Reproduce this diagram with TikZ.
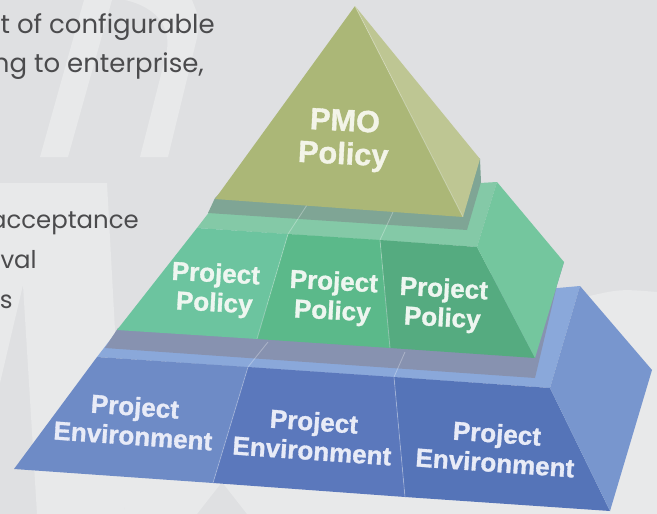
\documentclass[tikz,border=0pt]{standalone}
\usepackage{fontspec}
\newfontfamily\labelfont[BoldFeatures={FakeBold=1.2}]{Liberation Sans}
\newfontfamily\bodyfont{Poppins}

% Colours of the background
\definecolor{bgdark}{HTML}{DFE0E2}
\definecolor{bglight}{HTML}{E8E9EA}
\definecolor{bodygray}{HTML}{4B4B4D}
% Colours of the PMO pyramid
\definecolor{pmofront}{HTML}{ABB777}
\definecolor{pmoside}{HTML}{BEC693}
\definecolor{pmotext}{HTML}{F3F4E8}
% Colours of the policy tier
\definecolor{polstrip}{HTML}{84C9A7}
\definecolor{polshadow}{HTML}{7FA595}
\definecolor{polleft}{HTML}{6CC49F}
\definecolor{polmid}{HTML}{5BB98A}
\definecolor{polright}{HTML}{55AB80}
\definecolor{polside}{HTML}{74C69E}
\definecolor{poltext}{HTML}{EEF6F0}
% Colours of the environment tier
\definecolor{envstrip}{HTML}{8AA8DA}
\definecolor{envshadow}{HTML}{8792B0}
\definecolor{envleft}{HTML}{6E8BC6}
\definecolor{envmid}{HTML}{5B78BC}
\definecolor{envright}{HTML}{5574B8}
\definecolor{envside}{HTML}{7896CE}
\definecolor{envtext}{HTML}{E8EBF7}

\begin{document}
\begin{tikzpicture}[x=0.75pt,y=-0.75pt,
  tierlabel/.style={font=\labelfont\bfseries\fontsize{19.5}{22}\selectfont, align=center, inner sep=0pt},
  toplabel/.style={font=\labelfont\bfseries\fontsize{23}{25}\selectfont, align=center, inner sep=0pt, text=pmotext},
  bodytext/.style={font=\bodyfont\fontsize{18.3}{24}\selectfont, text=bodygray, anchor=base east, inner sep=0pt},
  seam/.style={draw=white, draw opacity=0.3, line width=0.6pt}]

% Background and faint watermark
\fill[bgdark] (0,0) rectangle (657,514);
\useasboundingbox (0,0) rectangle (657,514);
\clip (0,0) rectangle (657,514);
\fill[bglight] (40,157) -- (68,157) -- (112,0) -- (84,0) -- cycle;
\fill[bglight] (140,157) -- (168,157) -- (197,38) .. controls (200,20) .. (192,0) -- (125,0) .. controls (160,8) and (172,30) .. (166,55) -- cycle;
\fill[bglight] (0,183) -- (107,183) -- (125,514) -- (37,514) -- (23,285) -- (0,383) -- cycle;
\fill[bglight] (120,470) -- (585,297) .. controls (620,289) .. (657,292) -- (657,514) -- (247,514) -- (222,482) -- (197,514) -- (125,514) -- cycle;

% Text on the left
\node[bodytext, font=\bodyfont\fontsize{19.5}{24}\selectfont] (line1) at (215,33) {t of configurable};
\node[bodytext, font=\bodyfont\fontsize{19.5}{24}\selectfont] (line2) at (204,72) {ng to enterprise,};
\node[bodytext] (line3) at (139,228) {acceptance};
\node[bodytext] (line4) at (37,268) {oval};
\node[bodytext] (line5) at (13,308) {ks};

% Environment tier
\fill[envstrip] (97,357) -- (120,327) -- (580,286) -- (550,388) -- cycle;
\fill[envshadow] (118,328) -- (105,348) -- (535,378) -- (557,285) -- (564,262) -- cycle;
\fill[envleft] (97,357) -- (248,367) -- (213,483) -- (14,469) -- cycle;
\fill[envmid] (248,367) -- (394,377) -- (405,497) -- (213,483) -- cycle;
\fill[envright] (394,377) -- (550,388) -- (610,511) -- (405,497) -- cycle;
\fill[envside] (550,388) -- (580,286) -- (652,370) -- (610,511) -- cycle;
\draw[seam] (268,342) -- (248,367) -- (213,483);
\draw[seam] (405,352) -- (394,377) -- (405,497);

% Policy tier
\fill[polstrip] (197,228) -- (220,198) -- (497,182) -- (477,247) -- cycle;
\fill[polshadow] (215,198) -- (208,213) -- (467,230) -- (481,182) -- (480,159) -- (355,60) -- cycle;
\fill[polleft] (197,228) -- (288,234) -- (257,339) -- (117,330) -- cycle;
\fill[polmid] (288,234) -- (380,240) -- (390,348) -- (257,339) -- cycle;
\fill[polright] (380,240) -- (477,247) -- (535,358) -- (390,348) -- cycle;
\fill[polside] (477,247) -- (497,182) -- (564,262) -- (535,358) -- cycle;
\draw[seam] (307,205) -- (288,234) -- (257,339);
\draw[seam] (393,212) -- (380,240) -- (390,348);

% PMO pyramid
\fill[pmofront] (355,6) -- (215,199) -- (463,217) -- cycle;
\fill[pmoside] (355,6) -- (463,217) -- (480,159) -- cycle;
\draw[seam] (355,6) -- (463,217);

% Labels
\node[toplabel, rotate=-3] (pmo) at (344,140) {PMO\\Policy};
\node[tierlabel, text=poltext, rotate=-3] (pol1) at (215,290) {Project\\Policy};
\node[tierlabel, text=poltext, rotate=-3] (pol2) at (333,298) {Project\\Policy};
\node[tierlabel, text=poltext, rotate=-3] (pol3) at (443,305) {Project\\Policy};
\node[tierlabel, text=envtext, rotate=-4] (env1) at (134,421) {Project\\Environment};
\node[tierlabel, text=envtext, rotate=-4] (env2) at (313,436) {Project\\Environment};
\node[tierlabel, text=envtext, rotate=-4] (env3) at (496,448) {Project\\Environment};
\end{tikzpicture}
\end{document}
